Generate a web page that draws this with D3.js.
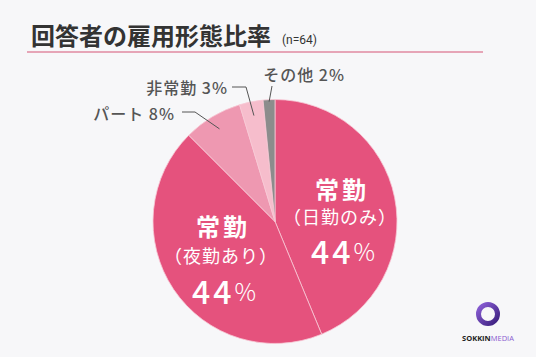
<!DOCTYPE html>
<html><head><meta charset="utf-8">
<script src="https://cdn.jsdelivr.net/npm/d3@7"></script>
<style>
html,body{margin:0;padding:0;background:#f7f7f9;}
svg{display:block;font-family:"Noto Sans CJK JP","Noto Sans",sans-serif;}
</style></head>
<body>
<script>
const categories = ["常勤（日勤のみ）","常勤（夜勤あり）","パート","非常勤","その他"];
const values = [43.75, 43.75, 7.81, 3.13, 1.56];
const percentLabels = ["44%","44%","8%","3%","2%"];
const colors = ["#e5527d","#e5527d","#ee98b1","#f6bdcc","#8c8c8c"];

const W = 536, H = 357;
const svg = d3.select("body").append("svg").attr("width", W).attr("height", H);
svg.append("rect").attr("width", W).attr("height", H).attr("fill", "#f7f7f9");

// title
svg.append("text").attr("x", 31).attr("y", 45)
  .attr("font-size", 24).attr("font-weight", 700).attr("fill", "#333")
  .text("回答者の雇用形態比率");
svg.append("text").attr("x", 282).attr("y", 44)
  .attr("font-size", 12).attr("fill", "#333").attr("font-family","Roboto, sans-serif")
  .text("(n=64)");
svg.append("line").attr("x1", 27).attr("x2", 483).attr("y1", 52).attr("y2", 52)
  .attr("stroke", "#e08aa0").attr("stroke-width", 1.5);

// pie
const cx = 275, cy = 221.5, R = 122;
const pie = d3.pie().sort(null).value(d => d);
const arcs = pie(values);
const arc = d3.arc().innerRadius(0).outerRadius(R);
const g = svg.append("g").attr("transform", `translate(${cx},${cy})`);
g.selectAll("path").data(arcs).enter().append("path")
  .attr("d", arc).attr("fill", (d, i) => colors[i])
  .attr("stroke", "#f8c9d6").attr("stroke-width", 0.8);

// inner labels
const inner = [
  {i:0, lines:["常勤","（日勤のみ）"], x:340, y:[188,216,250]},
  {i:1, lines:["常勤","（夜勤あり）"], x:221, y:[225,255,290]}
];
inner.forEach(o => {
  svg.append("text").attr("x", o.x + 2).attr("y", o.y[0]).attr("text-anchor","middle")
    .attr("dominant-baseline","central").attr("font-size", 24).attr("font-weight", 700)
    .attr("letter-spacing", 3).attr("fill","#fff").text(o.lines[0]);
  svg.append("text").attr("x", o.x).attr("y", o.y[1]).attr("text-anchor","middle")
    .attr("dominant-baseline","central").attr("font-size", 18).attr("font-weight", 400)
    .attr("letter-spacing", 1).attr("fill","#fff").text(o.lines[1]);
  const t = svg.append("text").attr("x", o.x + 3).attr("y", o.y[2]).attr("text-anchor","middle")
    .attr("dominant-baseline","central").attr("fill","#fff");
  t.append("tspan").attr("font-size", 32).attr("font-weight", 500).attr("letter-spacing", 3).text(percentLabels[o.i].replace("%",""));
  t.append("tspan").attr("font-size", 24).attr("font-weight", 300).text("%");
});

// outer labels with leader lines
const outer = [
  {i:2, name:"パート", tx:175, ty:113, pts:[[182,112],[195,112]]},
  {i:3, name:"非常勤", tx:228, ty:87, pts:[[232,87],[246,87]]},
  {i:4, name:"その他", tx:345, ty:74, pts:[[272,86]]}
];
outer.forEach(o => {
  const a = arcs[o.i];
  const mid = (a.startAngle + a.endAngle) / 2;
  const rr = o.i === 4 ? R - 2 : R - 14;
  const end = [cx + rr * Math.sin(mid), cy - rr * Math.cos(mid)];
  svg.append("polyline").attr("points", o.pts.concat([end]).map(p => p.join(",")).join(" "))
    .attr("fill","none").attr("stroke","#555").attr("stroke-width", 1);
  svg.append("text").attr("x", o.tx).attr("y", o.ty).attr("text-anchor","end")
    .attr("dominant-baseline","central").attr("font-size", 16).attr("font-weight", 500)
    .attr("letter-spacing", 1).attr("fill","#555")
    .text(categories[o.i] + " " + percentLabels[o.i]);
});

// logo
const defs = svg.append("defs");
const lg = defs.append("linearGradient").attr("id","lg").attr("x1","0").attr("y1","0").attr("x2","1").attr("y2","1");
lg.append("stop").attr("offset","0").attr("stop-color","#8b5fd6");
lg.append("stop").attr("offset","1").attr("stop-color","#3b1f7e");
svg.append("circle").attr("cx", 488).attr("cy", 314).attr("r", 9.5)
  .attr("fill","none").attr("stroke","url(#lg)").attr("stroke-width", 5);
const lt = svg.append("text").attr("x", 488).attr("y", 341).attr("text-anchor","middle")
  .attr("font-size", 7.5).attr("font-weight", 700).attr("font-family","'Open Sans', sans-serif");
lt.append("tspan").attr("fill","#222").text("SOKKIN");
lt.append("tspan").attr("fill","#8a5cd0").attr("font-weight", 400).text("MEDIA");
</script>
</body></html>
